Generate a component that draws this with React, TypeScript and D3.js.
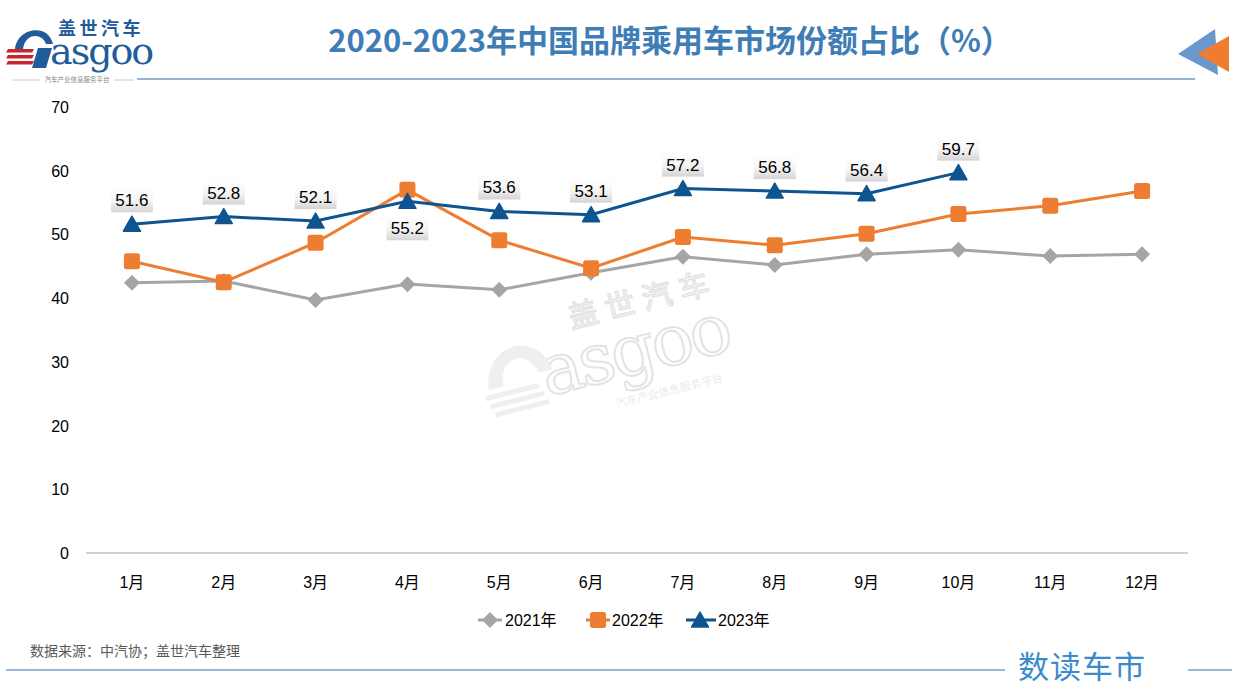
import * as d3 from "d3";
import { useEffect, useRef } from "react";

const months = ["1月", "2月", "3月", "4月", "5月", "6月", "7月", "8月", "9月", "10月", "11月", "12月"];
const share2021 = [42.4, 42.7, 39.7, 42.2, 41.3, 44.0, 46.5, 45.2, 46.9, 47.6, 46.6, 46.9];
const share2022 = [45.8, 42.5, 48.7, 57.0, 49.1, 44.7, 49.6, 48.3, 50.1, 53.2, 54.5, 56.8];
const share2023 = [51.6, 52.8, 52.1, 55.2, 53.6, 53.1, 57.2, 56.8, 56.4, 59.7];
const yTicks = [0, 10, 20, 30, 40, 50, 60, 70];
const seriesNames = ["2021年", "2022年", "2023年"];

const W = 1260;
const H = 700;
const FONT = "Arial, 'Liberation Sans', 'Noto Sans CJK SC', sans-serif";
const CJK = "'Noto Sans CJK SC', sans-serif";

export default function App() {
  const svgRef = useRef<SVGSVGElement | null>(null);

  useEffect(() => {
    const svg = d3.select(svgRef.current).attr("width", W).attr("height", H);
    svg.selectAll("*").remove();

    const defs = svg.append("defs");
    const grad = defs.append("linearGradient").attr("id", "lblGrad").attr("x1", 0).attr("y1", 0).attr("x2", 0).attr("y2", 1);
    grad.append("stop").attr("offset", "0%").attr("stop-color", "#ffffff");
    grad.append("stop").attr("offset", "55%").attr("stop-color", "#f4f4f4");
    grad.append("stop").attr("offset", "100%").attr("stop-color", "#d4d4d4");

    // header logo
    const logo = svg.append("g");
    logo.append("text").attr("x", 58).attr("y", 35).attr("font-size", 18).attr("font-weight", "bold")
      .attr("letter-spacing", 3.5).attr("fill", "#1f5c99").attr("font-family", CJK).text("盖世汽车");
    logo.append("text").attr("x", 50).attr("y", 64).attr("font-size", 38).attr("fill", "#1f5c99")
      .attr("font-family", "'DejaVu Serif', 'Liberation Serif', serif").attr("letter-spacing", -2).text("asgoo");
    logo.append("path").attr("d", "M15,50 C16,28 48,22 53,44 L46,44 C42,32 24,33 23,50 Z").attr("fill", "#1f5c99");
    logo.append("path").attr("d", "M38,48 L52,48 L46,68 L32,68 Z").attr("fill", "#1f5c99");
    [49, 55, 61].forEach((yy) => {
      logo.append("path").attr("d", `M${8},${yy} L${34},${yy} L${32},${yy + 3.5} L${6},${yy + 3.5} Z`).attr("fill", "#c8262b");
    });
    logo.append("text").attr("x", 77).attr("y", 82).attr("text-anchor", "middle").attr("font-size", 6.5)
      .attr("fill", "#888").attr("font-family", CJK).text("汽车产业信息服务平台");
    logo.append("line").attr("x1", 12).attr("x2", 40).attr("y1", 80).attr("y2", 80).attr("stroke", "#ccc");
    logo.append("line").attr("x1", 114).attr("x2", 134).attr("y1", 80).attr("y2", 80).attr("stroke", "#ccc");
    svg.append("line").attr("x1", 137).attr("x2", 1195).attr("y1", 79).attr("y2", 79).attr("stroke", "#2e6fab").attr("stroke-width", 1.2);

    svg.append("text").attr("x", 670).attr("y", 52).attr("text-anchor", "middle").attr("font-size", 31).attr("font-weight", "bold")
      .attr("fill", "#3f7db7").attr("font-family", CJK).text("2020-2023年中国品牌乘用车市场份额占比（%）");

    svg.append("polygon").attr("points", "1178,54 1215,29 1218,75").attr("fill", "#6a98cc");
    svg.append("polygon").attr("points", "1197,54 1229,36 1229,72").attr("fill", "#ee7d31");

    // watermark
    const wm = svg.append("g").attr("transform", "translate(610,360) rotate(-14)").attr("opacity", 0.5);
    wm.append("text").attr("x", -30).attr("y", -40).attr("font-size", 30).attr("letter-spacing", 8).attr("fill", "none")
      .attr("stroke", "#c8c8c8").attr("stroke-width", 1.5).attr("font-family", CJK).text("盖世汽车");
    wm.append("text").attr("x", -70).attr("y", 20).attr("font-size", 70).attr("fill", "none").attr("stroke", "#c8c8c8")
      .attr("stroke-width", 2).attr("font-family", "'DejaVu Serif', serif").attr("letter-spacing", -3).text("asgoo");
    wm.append("path").attr("d", "M-125,0 C-120,-45 -65,-50 -58,-5 L-72,-5 C-78,-32 -108,-30 -110,0 Z").attr("fill", "#e0e0e0");
    [5, 14, 23].forEach((yy, i) => {
      wm.append("rect").attr("x", -130 + i * 3).attr("y", yy).attr("width", 55).attr("height", 5).attr("fill", "#e0e0e0");
    });
    wm.append("text").attr("x", -5).attr("y", 48).attr("font-size", 11).attr("fill", "#d8d8d8")
      .attr("font-family", CJK).text("汽车产业信息服务平台");

    // scales
    const x = d3.scaleBand<string>().domain(months).range([86, 1188]);
    const cx = (m: string) => (x(m) as number) + x.bandwidth() / 2;
    const y = d3.scaleLinear().domain([0, 70]).range([553, 107]);

    svg.append("line").attr("x1", 86).attr("x2", 1188).attr("y1", y(0)).attr("y2", y(0)).attr("stroke", "#a6a6a6").attr("stroke-width", 1.2);

    svg.append("g").selectAll("text").data(yTicks).enter().append("text")
      .attr("x", 69).attr("y", (d) => y(d) + 6).attr("text-anchor", "end").attr("font-size", 16)
      .attr("fill", "#000").attr("font-family", FONT).text((d) => d);

    svg.append("g").selectAll("text").data(months).enter().append("text")
      .attr("x", cx).attr("y", 588).attr("text-anchor", "middle").attr("font-size", 16)
      .attr("fill", "#000").attr("font-family", FONT).text((d) => d);

    const line = d3.line<number>().x((_, i) => cx(months[i])).y((d) => y(d));

    const diamond = (g: d3.Selection<any, any, any, any>, px: number, py: number, c: string) =>
      g.append("path").attr("d", `M${px},${py - 8}L${px + 8},${py}L${px},${py + 8}L${px - 8},${py}Z`).attr("fill", c);
    const square = (g: d3.Selection<any, any, any, any>, px: number, py: number, c: string) =>
      g.append("rect").attr("x", px - 8).attr("y", py - 8).attr("width", 16).attr("height", 16).attr("rx", 2.5).attr("fill", c);
    const triangle = (g: d3.Selection<any, any, any, any>, px: number, py: number, c: string) =>
      g.append("path").attr("d", `M${px},${py - 8}L${px + 8.5},${py + 7}L${px - 8.5},${py + 7}Z`)
        .attr("fill", c).attr("stroke", c).attr("stroke-width", 1.5).attr("stroke-linejoin", "round");

    const series = [
      { data: share2021, color: "#a5a5a5", mark: diamond },
      { data: share2022, color: "#ed7d31", mark: square },
      { data: share2023, color: "#0e5490", mark: triangle },
    ];

    series.forEach((s) => {
      const g = svg.append("g");
      g.append("path").datum(s.data).attr("d", line).attr("fill", "none").attr("stroke", s.color).attr("stroke-width", 3);
      s.data.forEach((v, i) => s.mark(g, cx(months[i]), y(v), s.color));
    });

    // data labels for 2023
    const lg = svg.append("g");
    share2023.forEach((v, i) => {
      const px = cx(months[i]);
      const below = i === 3;
      const ly = below ? y(v) + 27 : y(v) - 24;
      lg.append("rect").attr("x", px - 21).attr("y", ly - 12).attr("width", 42).attr("height", 24).attr("fill", "url(#lblGrad)");
      lg.append("text").attr("x", px).attr("y", ly + 6).attr("text-anchor", "middle").attr("font-size", 17)
        .attr("fill", "#000").attr("font-family", FONT).text(v.toFixed(1));
    });

    // legend
    const leg = svg.append("g");
    const legItems = [
      { x0: 478, x1: 502, mx: 490, tx: 505 },
      { x0: 586, x1: 610, mx: 598, tx: 612 },
      { x0: 686, x1: 716, mx: 700, tx: 718 },
    ];
    legItems.forEach((it, i) => {
      leg.append("line").attr("x1", it.x0).attr("x2", it.x1).attr("y1", 620).attr("y2", 620).attr("stroke", series[i].color).attr("stroke-width", 3);
      series[i].mark(leg, it.mx, 620, series[i].color);
      leg.append("text").attr("x", it.tx).attr("y", 626).attr("font-size", 16).attr("fill", "#000").attr("font-family", FONT).text(seriesNames[i]);
    });

    // footer
    svg.append("text").attr("x", 30).attr("y", 656).attr("font-size", 14).attr("fill", "#595959")
      .attr("font-family", CJK).text("数据来源：中汽协；盖世汽车整理");
    svg.append("line").attr("x1", 6).attr("x2", 1005).attr("y1", 670).attr("y2", 670).attr("stroke", "#2e75b6").attr("stroke-width", 1.2);
    svg.append("line").attr("x1", 1188).attr("x2", 1232).attr("y1", 670).attr("y2", 670).attr("stroke", "#2e75b6").attr("stroke-width", 1.2);
    svg.append("text").attr("x", 1082).attr("y", 678).attr("text-anchor", "middle").attr("font-size", 31).attr("letter-spacing", 1)
      .attr("fill", "#3a8bcc").attr("font-family", CJK).text("数读车市");
  }, []);

  return (
    <div style={{ position: "absolute", left: 0, top: 0, width: W, height: H, background: "#fff" }}>
      <svg ref={svgRef}></svg>
    </div>
  );
}
